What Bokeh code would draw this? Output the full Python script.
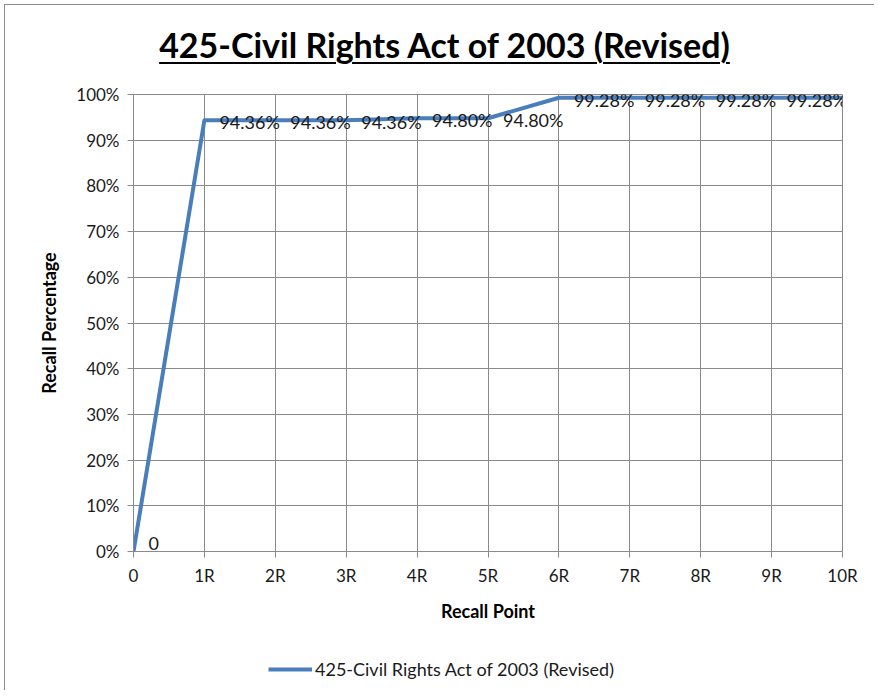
from bokeh.plotting import figure
from bokeh.layouts import column
from bokeh.models import (ColumnDataSource, NumeralTickFormatter, Div,
                          Legend, LegendItem, FixedTicker, Range1d)
from bokeh.core.properties import value
from bokeh.embed import file_html
from bokeh.resources import INLINE

# ---- data ----
title_text = "425-Civil Rights Act of 2003 (Revised)"
series_name = "425-Civil Rights Act of 2003 (Revised)"
recall_points = [0, 1, 2, 3, 4, 5, 6, 7, 8, 9, 10]
tick_labels = ["0", "1R", "2R", "3R", "4R", "5R", "6R", "7R", "8R", "9R", "10R"]
recall_pct = [0.0, 0.9436, 0.9436, 0.9436, 0.9480, 0.9480, 0.9928, 0.9928, 0.9928, 0.9928, 0.9928]
point_labels = ["0" if v == 0 else f"{v*100:.2f}%" for v in recall_pct]
y_ticks = [0, 0.1, 0.2, 0.3, 0.4, 0.5, 0.6, 0.7, 0.8, 0.9, 1.0]

FONT = "Lato"
GRID = "#8a8a8a"
LINE = "#4a7ebb"
TXT = "#1a1a1a"

# label offsets (style): keep the "0" label just above the axis so it stays visible
y_off = [-8 if v == 0 else 2 for v in recall_pct]
src = ColumnDataSource(dict(x=recall_points, y=recall_pct, lab=point_labels, yo=y_off))

# ---- main chart ----
p = figure(width=869, height=569, output_backend="svg", toolbar_location=None,
           x_range=(0, 10), y_range=(0, 1),
           min_border_left=128, min_border_right=32, min_border_top=23, min_border_bottom=89)
p.background_fill_color = "white"
p.border_fill_color = "white"
p.outline_line_color = GRID

r = p.line("x", "y", source=src, line_color=LINE, line_width=4, line_join="round")
p.text("x", "y", text="lab", source=src, x_offset=15, y_offset="yo",
       text_font=value(FONT), text_font_size="18px", text_color=TXT,
       text_baseline="middle", text_align="left")

p.xaxis.ticker = FixedTicker(ticks=recall_points)
p.xaxis.major_label_overrides = {k: v for k, v in zip(recall_points, tick_labels)}
p.yaxis.ticker = FixedTicker(ticks=y_ticks)
p.yaxis.formatter = NumeralTickFormatter(format="0%")
for ax in (p.xaxis[0], p.yaxis[0]):
    ax.axis_line_color = GRID
    ax.major_tick_line_color = GRID
    ax.major_tick_out = 6
    ax.major_tick_in = 0
    ax.minor_tick_line_color = None
    ax.major_label_text_font = FONT
    ax.major_label_text_font_size = "17px"
    ax.major_label_text_color = TXT
    ax.axis_label_text_font = FONT
    ax.axis_label_text_font_size = "18px"
    ax.axis_label_text_font_style = "bold"
    ax.axis_label_text_color = "#000000"
p.xaxis.axis_label = "Recall Point"
p.yaxis.axis_label = "Recall Percentage"
p.xaxis.major_label_standoff = 7
p.xaxis.axis_label_standoff = 11
p.yaxis.major_label_standoff = 8
p.yaxis.axis_label_standoff = 13

p.xgrid.grid_line_color = GRID
p.ygrid.grid_line_color = GRID

# ---- legend strip (separate small canvas under the chart; its view range keeps the
#      series itself out of sight, only the legend key is shown) ----
lf = figure(width=869, height=50, output_backend="svg", toolbar_location=None,
            x_axis_type=None, y_axis_type=None,
            x_range=Range1d(-3, -2), y_range=Range1d(-3, -2), min_border=0)
lf.outline_line_color = None
lf.background_fill_color = "white"
lf.border_fill_color = "white"
lf.xgrid.visible = False
lf.ygrid.visible = False
key = lf.line("x", "y", source=src, line_color=LINE, line_width=4)
legend = Legend(items=[LegendItem(label=series_name, renderers=[key])],
                location=(135, 10), orientation="horizontal",
                label_text_font=FONT, label_text_font_size="18px", label_text_color=TXT,
                glyph_width=44, glyph_height=20, label_height=20, label_standoff=3,
                padding=0, margin=0, border_line_color=None, background_fill_alpha=0)
lf.add_layout(legend)

# ---- underlined title ----
title_html = ('<div style="width:869px;text-align:center;padding-top:20px;line-height:40px;'
              'font-family:Lato;font-weight:bold;font-size:34px;color:#000;">'
              '<u style="text-decoration-thickness:2px;text-underline-offset:4px;'
              'position:relative;left:5px;">' + title_text + '</u></div>')
title = Div(text=title_html, width=869, height=66, margin=0)

layout = column(title, p, lf, spacing=0, margin=(4, 0, 0, 4),
                styles={"border-left": "1px solid #8c8c8c", "border-top": "1px solid #8c8c8c",
                        "background": "white"})

open("out.html", "w").write(file_html(layout, INLINE))
